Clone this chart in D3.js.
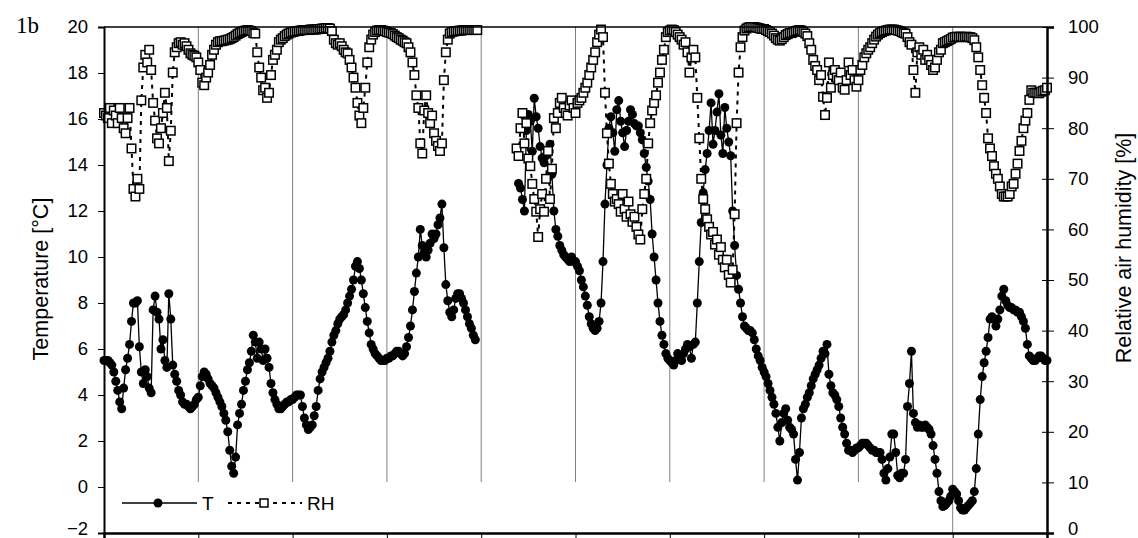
<!doctype html>
<html lang="en">
<head>
<meta charset="utf-8">
<script src="https://d3js.org/d3.v7.min.js"></script>
<title>1b</title>
<style>
  body { margin: 0; background: #fff; }
  svg text { font-family: "Liberation Sans", Arial, sans-serif; }
</style>
</head>
<body>
<svg id="svg1" width="1138" height="538"></svg>
<script>
// readings every half hour over 10 days (0..240 h), 12 values per row = 6 h; null = no data
let stepHours = 0.5;

let tempValues = [
  // day 0
  5.5, 5.5, 5.5, 5.4, 5.3, 5.0, 4.6, 4.2, 3.7, 3.4, 4.3, 5.1,
  5.6, 6.2, 7.2, 8.0, 8.0, 8.1, 6.1, 5.0, 4.5, 5.1, 4.8, 4.3,
  4.1, 7.7, 8.3, 7.6, 7.3, 6.0, 6.4, 5.5, 5.2, 8.4, 7.3, 5.3,
  4.9, 4.6, 4.2, 4.0, 3.7, 3.6, 3.6, 3.5, 3.4, 3.5, 3.6, 3.8,
  // day 1
  3.9, 4.4, 4.8, 5.0, 4.9, 4.7, 4.5, 4.4, 4.3, 4.1, 3.9, 3.7,
  3.5, 3.2, 2.9, 2.4, 1.6, 0.9, 0.6, 1.3, 2.7, 3.2, 3.6, 4.2,
  4.6, 5.1, 5.4, 5.9, 6.6, 6.3, 5.6, 6.3, 6.0, 5.5, 6.0, 5.6,
  5.2, 4.5, 4.1, 3.8, 3.6, 3.4, 3.4, 3.5, 3.6, 3.7, 3.7, 3.8,
  // day 2
  3.8, 3.9, 4.0, 4.0, 4.0, 3.5, 3.0, 2.7, 2.5, 2.6, 2.7, 3.1,
  3.5, 4.2, 4.7, 5.0, 5.2, 5.4, 5.6, 5.9, 6.3, 6.6, 6.8, 7.1,
  7.3, 7.4, 7.5, 7.7, 8.0, 8.3, 8.6, 9.0, 9.6, 9.8, 9.5, 9.0,
  8.4, 7.8, 7.2, 6.7, 6.2, 6.0, 5.8, 5.7, 5.6, 5.5, 5.5, 5.5,
  // day 3
  5.6, 5.6, 5.7, 5.7, 5.8, 5.9, 5.9, 5.8, 5.7, 5.8, 6.1, 6.5,
  7.0, 7.7, 8.5, 9.3, 10.0, 11.2, 10.5, 10.2, 10.0, 10.3, 10.6, 11.0,
  10.8, 11.0, 11.4, 11.7, 12.3, 10.4, 8.8, 8.1, 7.6, 7.4, 7.7, 8.2,
  8.4, 8.4, 8.2, 8.0, 7.7, 7.4, 7.1, 6.9, 6.6, 6.4, null, null,
  // day 4
  null, null, null, null, null, null, null, null, null, null, null, null,
  null, null, null, null, null, null, null, 13.2, 13.0, 12.5, 12.0, 15.5,
  16.2, 15.9, 14.6, 16.9, 16.1, 15.6, 14.8, 14.3, 14.1, 14.4, 14.6, 14.9,
  13.6, 12.0, 11.2, 10.9, 10.5, 10.3, 10.1, 10.0, 9.9, 9.8, 10.0, 9.8,
  // day 5
  9.8, 9.6, 9.4, 9.0, 8.7, 8.3, 7.9, 7.4, 7.1, 6.9, 6.8, 6.9,
  7.2, 8.0, 9.8, 12.3, 14.0, 15.6, 16.1, 15.4, 14.6, 16.4, 16.8, 15.9,
  15.4, 14.8, 15.5, 15.9, 16.4, 16.2, 15.8, 15.7, 15.7, 15.4, 15.1, 14.5,
  13.9, 13.3, 12.5, 11.0, 10.0, 9.0, 8.0, 7.2, 6.6, 6.2, 5.8, 5.6,
  // day 6
  5.5, 5.4, 5.3, 5.5, 5.8, 5.6, 5.5, 5.8, 6.0, 6.2, 6.1, 5.6,
  6.2, 6.3, 8.0, 9.8, 11.5, 12.8, 13.8, 14.5, 15.5, 16.7, 14.9, 15.5,
  16.3, 17.1, 15.3, 14.5, 16.5, 15.6, 15.0, 14.4, 12.0, 10.5, 9.2, 8.6,
  8.0, 7.4, 7.0, 6.9, 6.8, 6.8, 6.7, 6.4, 6.0, 5.7, 5.5, 5.2,
  // day 7
  5.0, 4.8, 4.5, 4.2, 3.9, 3.6, 3.2, 2.6, 2.0, 2.8, 3.2, 3.4,
  2.9, 2.6, 2.5, 2.3, 1.2, 0.3, 1.5, 3.0, 3.4, 3.6, 3.9, 4.1,
  4.4, 4.7, 4.9, 5.1, 5.3, 5.6, 5.9, 5.8, 6.2, 4.9, 4.4, 4.1,
  4.0, 3.8, 3.5, 3.0, 2.6, 2.3, 1.9, 1.6, 1.6, 1.5, 1.6, 1.7,
  // day 8
  1.7, 1.8, 1.9, 1.9, 1.9, 1.8, 1.7, 1.6, 1.6, 1.5, 1.5, 1.5,
  1.2, 0.6, 0.3, 0.8, 1.3, 2.3, 2.3, 1.5, 0.5, 0.4, 0.6, 0.6,
  1.2, 3.5, 4.5, 5.9, 3.2, 2.8, 2.6, 2.7, 2.6, 2.6, 2.7, 2.6,
  2.5, 2.3, 1.8, 1.2, 0.6, -0.2, -0.6, -0.85, -0.8, -0.7, -0.6, -0.4,
  // day 9
  -0.1, -0.2, -0.3, -0.6, -0.9, -1.0, -1.0, -0.9, -0.8, -0.7, -0.6, -0.2,
  0.8, 2.3, 3.8, 4.8, 5.4, 5.9, 6.5, 7.3, 7.4, 7.3, 7.0, 7.3,
  7.7, 8.3, 8.6, 8.1, 7.9, 7.8, 7.8, 7.7, 7.7, 7.6, 7.6, 7.4,
  7.2, 6.9, 6.2, 5.7, 5.6, 5.5, 5.5, 5.6, 5.7, 5.7, 5.6, 5.5, 5.5
];

let rhValues = [
  // day 0
  83, 82.5, 82, 84, 81, 83.5, 82.5, 81, 84, 82, 80, 79,
  82, 84, 76, 68, 66.5, 70, 68, 85.5, 92, 94.5, 93, 95.5,
  91.5, 85, 81.5, 78, 77, 80, 83, 87, 84, 73.5, 79.5, 91,
  95, 96, 96.8, 97, 96.5, 96.8, 96.2, 95.5, 94.8, 94.5, 94.3, 94,
  // day 1
  93, 91.5, 89, 88.5, 90, 91, 92.5, 94.5, 95.5, 96.5, 97, 97.2,
  97.2, 97.3, 97.4, 97.5, 97.6, 97.8, 98, 98.3, 98.6, 98.8, 99, 99.2,
  99.3, 99.4, 99.3, 99.2, 98.8, 98.7, 95, 92, 90, 87.5, 88, 86,
  87, 90.5, 93.5, 94.5, 95.5, 97, 97.5, 97.8, 98.2, 98.5, 98.7, 98.9,
  // day 2
  99, 99.1, 99.2, 99.2, 99.3, 99.4, 99.4, 99.4, 99.4, 99.5, 99.5, 99.5,
  99.5, 99.6, 99.6, 99.7, 99.7, 99.8, 99.8, 99.7, 99.2, 97.5, 96.8, 96.5,
  96.8, 96.2, 95.5, 95, 94.8, 93.5, 92, 90, 88, 85, 82.5, 81,
  84, 88, 93, 96, 97.5, 98.5, 99, 99.3, 99.4, 99.4, 99.3, 99.2,
  // day 3
  99, 98.9, 98.8, 98.6, 98.3, 98, 97.8, 97.5, 97.3, 97, 96.8, 96,
  95, 93, 90.5, 86.5, 84, 77, 75, 83.5, 86.5, 83, 81, 82.5,
  79, 77.5, 76.5, 75.5, 77, 89.5, 95, 97.5, 98.7, 99, 99.1, 99.2,
  99.2, 99.3, 99.3, 99.4, 99.4, 99.4, 99.4, 99.4, 99.4, 99.4, 99.4, null,
  // day 4
  null, null, null, null, null, null, null, null, null, null, null, null,
  null, null, null, null, null, null, 76, 74.5, 80, 83, 77, 81,
  74, 72.5, 69, 66, 63.5, 58.5, 64, 67, 63.5, 70, 75.5, 66,
  72, 82, 80, 83, 85, 86, 84, 83, 82.5, 84.5, 85.5, 84,
  // day 5
  83, 85, 85.5, 86, 87, 88, 89, 90.5, 92, 93.5, 95, 97,
  98.5, 99.5, 98, 87, 79, 73, 69, 67, 65.5, 66, 65, 63.5,
  67, 64, 62.5, 65.5, 63, 61.5, 62.5, 60.5, 59, 58, 64, 67,
  70, 77, 81, 83.5, 85, 86.5, 89, 91, 93.5, 95.5, 98, 99,
  // day 6
  99.3, 99.5, 99.4, 99, 98.5, 98, 97.5, 96.5, 97, 95, 91, 94,
  95.5, 94, 86, 78, 70, 66, 64, 62, 60.5, 59, 59.5, 57,
  58, 55, 56.5, 54, 52.5, 54, 51, 49.5, 52, 63, 81, 91,
  96, 98, 99.3, 99.7, 99.9, 100, 100, 100, 99.9, 99.8, 99.7, 99.6,
  // day 7
  99.6, 99.4, 99.2, 99, 98.7, 98.3, 97.8, 97.5, 97.3, 97.6, 98, 98.4,
  98.6, 98.8, 98.8, 99, 99.2, 99.3, 99.4, 99.3, 99, 98.7, 98.2, 96.8,
  95.5, 93.5, 92.3, 91.5, 89.5, 90.5, 86.2, 82.6, 86, 93, 88, 90.5,
  91.5, 90, 89.5, 91, 88, 87.6, 89.5, 93, 90.5, 91.5, 89.5, 88.2,
  // day 8
  89.5, 91.5, 92.5, 94, 94.8, 95.5, 96, 96.8, 97.5, 98.1, 98.5, 98.8,
  99, 99.2, 99.3, 99.4, 99.5, 99.5, 99.5, 99.4, 99.3, 99.2, 99, 98.8,
  98.7, 98, 97, 96.5, 91.5, 87, 95, 96, 94.5, 95.5, 93.5, 94.5,
  93.5, 92.5, 91.5, 92, 93.5, 95, 95.5, 96.8, 97, 97.2, 97.4, 97.6,
  // day 9
  97.9, 98, 98.1, 98, 98.1, 98, 98, 98.1, 98, 98, 97.8, 97.4,
  96, 94, 91.5, 88.5, 86, 83, 78, 76, 74.5, 72.5, 71, 70,
  68.5, 67, 66.5, 66.5, 66.5, 67, 68.5, 69, 71, 73, 75.5, 77.5,
  80, 81.5, 83, 85.6, 87.5, 87, 87, 87, 86.9, 87.2, 87.4, 87.5, 88
];

let tempTicks = d3.range(-2, 21, 2);
let rhTicks = d3.range(0, 101, 10);
let dayTicks = d3.range(0, 241, 24);

let svg;
let margin = { top: 27, right: 91, bottom: 5, left: 104 };
let width = 1138, height = 538;
let xScale, yScale, rhScale;

function initialize() {
  svg = d3.select("#svg1");

  xScale = d3.scaleLinear().domain([0, 240]).range([margin.left, width - margin.right]);
  yScale = d3.scaleLinear().domain([-2, 20]).range([height - margin.bottom, margin.top]);
  rhScale = d3.scaleLinear().domain([0, 100]).range([height - margin.bottom, margin.top]);
}

function update() {
  let x0 = xScale(0), x1 = xScale(240);
  let yTop = yScale(20), yBot = yScale(-2);

  // vertical day lines
  svg.append("g")
    .selectAll("line")
    .data(dayTicks.slice(1, -1))
    .join("line")
    .attr("x1", d => xScale(d)).attr("x2", d => xScale(d))
    .attr("y1", yTop).attr("y2", yBot)
    .attr("stroke", "#808080").attr("stroke-width", 1);

  // legend background hides the grid
  let lg = svg.append("g");
  lg.append("rect")
    .attr("x", x0 + 2).attr("y", 482)
    .attr("width", 796).attr("height", yBot - 482)
    .attr("fill", "#fff");

  // temperature
  let tData = tempValues.map((v, i) => ({ h: i * stepHours, v: v }));
  let tLine = d3.line()
    .defined(d => d.v !== null)
    .x(d => xScale(d.h))
    .y(d => yScale(d.v));

  svg.append("path")
    .datum(tData)
    .attr("d", tLine)
    .attr("fill", "none")
    .attr("stroke", "#000")
    .attr("stroke-width", 1.3);

  svg.append("g")
    .selectAll("circle")
    .data(tData.filter(d => d.v !== null))
    .join("circle")
    .attr("cx", d => xScale(d.h))
    .attr("cy", d => yScale(d.v))
    .attr("r", 4.5)
    .attr("fill", "#000");

  // relative humidity
  let rData = rhValues.map((v, i) => ({ h: i * stepHours, v: v }));
  let rLine = d3.line()
    .defined(d => d.v !== null)
    .x(d => xScale(d.h))
    .y(d => rhScale(d.v));

  svg.append("path")
    .datum(rData)
    .attr("d", rLine)
    .attr("fill", "none")
    .attr("stroke", "#000")
    .attr("stroke-width", 2)
    .attr("stroke-dasharray", "4,5");

  svg.append("g")
    .selectAll("rect")
    .data(rData.filter(d => d.v !== null))
    .join("rect")
    .attr("x", d => xScale(d.h) - 4.25)
    .attr("y", d => rhScale(d.v) - 4.25)
    .attr("width", 8.5).attr("height", 8.5)
    .attr("fill", "#fff")
    .attr("stroke", "#000")
    .attr("stroke-width", 1.5);

  // plot frame
  svg.append("line")
    .attr("x1", x0).attr("x2", x1).attr("y1", yTop).attr("y2", yTop)
    .attr("stroke", "#000").attr("stroke-width", 1.5);

  // axes
  let leftAxis = d3.axisLeft(yScale).tickValues(tempTicks).tickSize(6).tickPadding(10)
    .tickFormat(d3.format("d"));
  svg.append("g")
    .attr("transform", `translate(${x0},0)`)
    .call(leftAxis)
    .call(g => g.select(".domain").attr("stroke-width", 2))
    .call(g => g.selectAll("text").attr("font-size", 18.5).attr("font-family", "Liberation Sans, Arial, sans-serif"))
    .call(g => g.selectAll(".tick").filter(d => d === -2).select("text").attr("dy", "0.1em"));

  let rightAxis = d3.axisRight(rhScale).tickValues(rhTicks).tickSize(7).tickPadding(14);
  svg.append("g")
    .attr("transform", `translate(${x1},0)`)
    .call(rightAxis)
    .call(g => g.select(".domain").attr("stroke-width", 2.5))
    .call(g => g.selectAll(".tick line").attr("x1", -5))
    .call(g => g.selectAll("text").attr("font-size", 18.5).attr("font-family", "Liberation Sans, Arial, sans-serif"))
    .call(g => g.selectAll(".tick").filter(d => d === 0).select("text").attr("dy", "0.1em"));

  let bottomAxis = d3.axisBottom(xScale).tickValues(dayTicks).tickSize(5).tickFormat("");
  svg.append("g")
    .attr("transform", `translate(0,${yBot})`)
    .call(bottomAxis)
    .call(g => g.select(".domain").attr("stroke-width", 2.5));

  // axis titles
  svg.append("text")
    .attr("transform", `translate(48,279) rotate(-90)`)
    .attr("text-anchor", "middle")
    .attr("font-size", 21.5)
    .text("Temperature [°C]");

  svg.append("text")
    .attr("transform", `translate(1131,248) rotate(-90)`)
    .attr("text-anchor", "middle")
    .attr("font-size", 21.5)
    .text("Relative air humidity [%]");

  svg.append("text")
    .attr("x", 16).attr("y", 33)
    .style("font-family", "'Liberation Serif', 'Times New Roman', serif")
    .attr("font-size", 23)
    .text("1b");

  // legend
  let ly = 503;
  lg.append("line").attr("x1", 122).attr("x2", 197).attr("y1", ly).attr("y2", ly)
    .attr("stroke", "#000").attr("stroke-width", 1.3);
  lg.append("circle").attr("cx", 158).attr("cy", ly).attr("r", 4.5).attr("fill", "#000");
  lg.append("text").attr("x", 202).attr("y", 509.5).attr("font-size", 19).text("T");
  lg.append("line").attr("x1", 228).attr("x2", 302).attr("y1", ly).attr("y2", ly)
    .attr("stroke", "#000").attr("stroke-width", 2).attr("stroke-dasharray", "4,5");
  lg.append("rect").attr("x", 260).attr("y", ly - 4).attr("width", 8).attr("height", 8)
    .attr("fill", "#fff").attr("stroke", "#000").attr("stroke-width", 1.5);
  lg.append("text").attr("x", 307).attr("y", 509.5).attr("font-size", 19).text("RH");
}

initialize();
update();
</script>
</body>
</html>
